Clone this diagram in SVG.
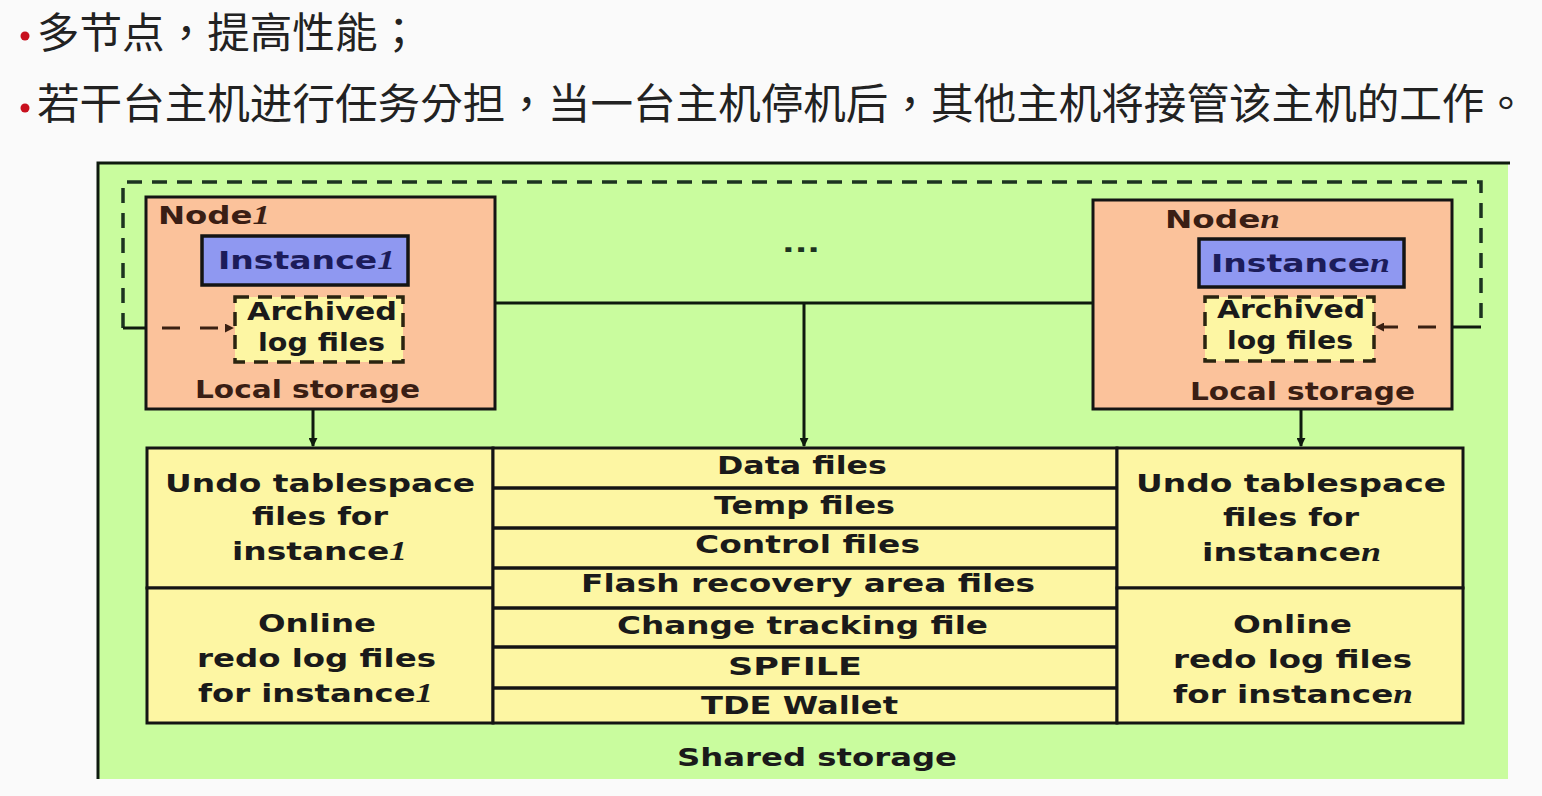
<svg xmlns="http://www.w3.org/2000/svg" width="1542" height="796" viewBox="0 0 1542 796">
<defs>
<style>
.bg{fill:#FAFAFA}
.green{fill:#C9FC9E}
.node{fill:#FBC29B;stroke:#141414;stroke-width:3}
.inst{fill:#8F98F1;stroke:#141414;stroke-width:3.5}
.arch{fill:#FDF6A3;stroke:#2A2410;stroke-width:3.5;stroke-dasharray:14 9}
.cell{fill:#FDF6A3;stroke:#141414;stroke-width:3}
.sep{stroke:#141414;stroke-width:3.5}
.line{stroke:#0E1A0E;stroke-width:3;fill:none}
.dash{stroke:#1C3320;stroke-width:3.5;fill:none;stroke-dasharray:15 10}
.dashin{stroke:#3A2012;stroke-width:3;fill:none;stroke-dasharray:18 20}
.t{font-family:"DejaVu Sans","Liberation Sans",sans-serif;font-weight:bold;font-size:25px;fill:#1A1A1A}
.nl{fill:#3A1E14}
.il{fill:#1C1C5A}
.it{font-family:"Liberation Serif","DejaVu Serif",serif;font-style:italic;font-weight:bold;font-size:27px}
.cn{font-family:"Noto Sans CJK TC","Noto Sans CJK SC",sans-serif;font-size:42px;fill:#222222}
.bul{fill:#C8101E}
</style>
<marker id="ah" viewBox="0 0 10 10" refX="9" refY="5" markerWidth="9" markerHeight="9" markerUnits="userSpaceOnUse" orient="auto">
<path d="M0,0 L10,5 L0,10 z" fill="#0E1A0E"/>
</marker>
<marker id="ahb" viewBox="0 0 10 10" refX="9" refY="5" markerWidth="9" markerHeight="9" markerUnits="userSpaceOnUse" orient="auto">
<path d="M0,0 L10,5 L0,10 z" fill="#3A2012"/>
</marker>
</defs>
<rect class="bg" x="0" y="0" width="1542" height="796"/>

<g id="title">
<circle class="bul" cx="25" cy="36" r="4.5"/>
<text class="cn" x="37" y="48" textLength="383" lengthAdjust="spacingAndGlyphs">多节点，提高性能；</text>
<circle class="bul" cx="25" cy="108" r="4.5"/>
<text class="cn" x="37" y="119" textLength="1490" lengthAdjust="spacingAndGlyphs">若干台主机进行任务分担，当一台主机停机后，其他主机将接管该主机的工作。</text>
</g>

<g id="shared-storage">
<rect class="green" x="97" y="163" width="1411" height="616"/>
<path class="line" d="M1510,163 H98 V779"/>
<text class="t" x="677" y="766" textLength="280" lengthAdjust="spacingAndGlyphs">Shared storage</text>
</g>

<g id="node1">
<rect class="node" x="146" y="197" width="349" height="212"/>
<text class="t nl" x="158" y="224" textLength="112" lengthAdjust="spacingAndGlyphs">Node<tspan class="it">1</tspan></text>
<rect class="inst" x="202" y="236" width="206" height="49"/>
<text class="t il" x="218" y="269" textLength="177" lengthAdjust="spacingAndGlyphs">Instance<tspan class="it">1</tspan></text>
<rect class="arch" x="235" y="297" width="168" height="65"/>
<text class="t" x="247" y="320" textLength="150" lengthAdjust="spacingAndGlyphs">Archived</text>
<text class="t" x="258" y="351" textLength="127" lengthAdjust="spacingAndGlyphs">log files</text>
<text class="t nl" x="195" y="398" textLength="225" lengthAdjust="spacingAndGlyphs">Local storage</text>
</g>

<g id="dots">
<text class="t" x="782" y="252" textLength="38" lengthAdjust="spacingAndGlyphs" style="fill:#1C3320">...</text>
</g>

<g id="noden">
<rect class="node" x="1093" y="200" width="359" height="209"/>
<text class="t nl" x="1165" y="228" textLength="115" lengthAdjust="spacingAndGlyphs">Node<tspan class="it">n</tspan></text>
<rect class="inst" x="1199" y="239" width="205" height="48"/>
<text class="t il" x="1211" y="272" textLength="179" lengthAdjust="spacingAndGlyphs">Instance<tspan class="it">n</tspan></text>
<rect class="arch" x="1205" y="297" width="169" height="64"/>
<text class="t" x="1217" y="318" textLength="148" lengthAdjust="spacingAndGlyphs">Archived</text>
<text class="t" x="1227" y="349" textLength="126" lengthAdjust="spacingAndGlyphs">log files</text>
<text class="t nl" x="1190" y="400" textLength="225" lengthAdjust="spacingAndGlyphs">Local storage</text>
</g>

<g id="undo1">
<rect class="cell" x="147" y="448" width="346" height="140"/>
<text class="t" x="165" y="492" textLength="310" lengthAdjust="spacingAndGlyphs">Undo tablespace</text>
<text class="t" x="252" y="525" textLength="136" lengthAdjust="spacingAndGlyphs">files for</text>
<text class="t" x="232" y="560" textLength="175" lengthAdjust="spacingAndGlyphs">instance<tspan class="it">1</tspan></text>
</g>
<g id="redo1">
<rect class="cell" x="147" y="588" width="346" height="135"/>
<text class="t" x="258" y="632" textLength="118" lengthAdjust="spacingAndGlyphs">Online</text>
<text class="t" x="197" y="667" textLength="239" lengthAdjust="spacingAndGlyphs">redo log files</text>
<text class="t" x="198" y="702" textLength="235" lengthAdjust="spacingAndGlyphs">for instance<tspan class="it">1</tspan></text>
</g>

<g id="shared-files">
<rect class="cell" x="493" y="448" width="624" height="275"/>
<line class="sep" x1="493" y1="488" x2="1117" y2="488"/>
<line class="sep" x1="493" y1="528" x2="1117" y2="528"/>
<line class="sep" x1="493" y1="568" x2="1117" y2="568"/>
<line class="sep" x1="493" y1="608" x2="1117" y2="608"/>
<line class="sep" x1="493" y1="647" x2="1117" y2="647"/>
<line class="sep" x1="493" y1="688" x2="1117" y2="688"/>
<text class="t" x="717" y="474" textLength="170" lengthAdjust="spacingAndGlyphs">Data files</text>
<text class="t" x="714" y="514" textLength="181" lengthAdjust="spacingAndGlyphs">Temp files</text>
<text class="t" x="695" y="553" textLength="225" lengthAdjust="spacingAndGlyphs">Control files</text>
<text class="t" x="581" y="592" textLength="454" lengthAdjust="spacingAndGlyphs">Flash recovery area files</text>
<text class="t" x="617" y="634" textLength="371" lengthAdjust="spacingAndGlyphs">Change tracking file</text>
<text class="t" x="728" y="675" textLength="134" lengthAdjust="spacingAndGlyphs">SPFILE</text>
<text class="t" x="701" y="714" textLength="197" lengthAdjust="spacingAndGlyphs">TDE Wallet</text>
</g>

<g id="undon">
<rect class="cell" x="1117" y="448" width="346" height="140"/>
<text class="t" x="1136" y="492" textLength="310" lengthAdjust="spacingAndGlyphs">Undo tablespace</text>
<text class="t" x="1223" y="526" textLength="136" lengthAdjust="spacingAndGlyphs">files for</text>
<text class="t" x="1202" y="561" textLength="179" lengthAdjust="spacingAndGlyphs">instance<tspan class="it">n</tspan></text>
</g>
<g id="redon">
<rect class="cell" x="1117" y="588" width="346" height="135"/>
<text class="t" x="1233" y="633" textLength="119" lengthAdjust="spacingAndGlyphs">Online</text>
<text class="t" x="1173" y="668" textLength="239" lengthAdjust="spacingAndGlyphs">redo log files</text>
<text class="t" x="1173" y="703" textLength="240" lengthAdjust="spacingAndGlyphs">for instance<tspan class="it">n</tspan></text>
</g>

<g id="connectors">
<path class="dash" d="M123,328 V182 H1481 V327"/>
<line class="line" x1="123" y1="328" x2="146" y2="328"/>
<line class="line" x1="1452" y1="327" x2="1481" y2="327"/>
<line class="dashin" x1="162" y1="328" x2="233" y2="328" marker-end="url(#ahb)"/>
<line class="dashin" x1="1436" y1="327" x2="1376" y2="327" marker-end="url(#ahb)"/>
<line class="line" x1="495" y1="303" x2="1093" y2="303"/>
<line class="line" x1="804" y1="303" x2="804" y2="446" marker-end="url(#ah)"/>
<line class="line" x1="313" y1="410" x2="313" y2="446" marker-end="url(#ah)"/>
<line class="line" x1="1301" y1="410" x2="1301" y2="446" marker-end="url(#ah)"/>
</g>
</svg>
